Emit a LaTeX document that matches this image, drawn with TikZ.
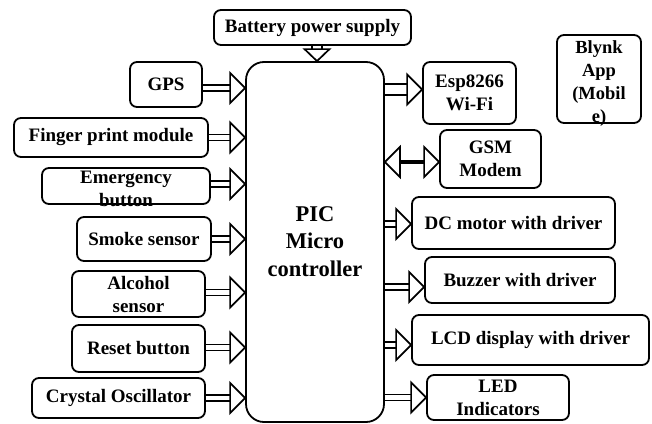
\documentclass[tikz,border=0pt]{standalone}
\usepackage{fontspec}
\setmainfont{Liberation Serif}
\usetikzlibrary{decorations.markings}
\begin{document}
\begin{tikzpicture}[x=1pt,y=-1pt,
  box/.style={draw, line width=1.8pt, rounded corners=7pt, inner sep=0pt, align=center,
    font=\fontsize{19}{23}\selectfont\bfseries},
  tiphead/.style={line width=1.7pt, fill=white, line join=miter, shorten >=0pt, shorten <=0pt},
  tipend/.style={decoration={markings, mark=at position 1 with {\draw[tiphead] (0pt,0pt) -- (-15pt,15pt) -- (-15pt,-15pt) -- cycle;}}, postaction=decorate},
  smalltip/.style={decoration={markings, mark=at position 1 with {\draw[tiphead] (0pt,0pt) -- (-12pt,12.5pt) -- (-12pt,-12.5pt) -- cycle;}}, postaction=decorate},
  dbl/.style={line width=1.7pt, double=white, double distance=#1, shorten >=13pt, tipend},
  dbl/.default=4.5pt,
  dblsmall/.style={line width=1.7pt, double=white, double distance=#1, shorten >=10pt, smalltip},
  thick2/.style={line width=3.5pt, shorten >=13pt, shorten <=13pt,
    decoration={markings,
      mark=at position 0 with {\draw[tiphead] (0pt,0pt) -- (15pt,15pt) -- (15pt,-15pt) -- cycle;},
      mark=at position 1 with {\draw[tiphead] (0pt,0pt) -- (-15pt,15pt) -- (-15pt,-15pt) -- cycle;}},
    postaction=decorate}
]
\useasboundingbox (0,0) rectangle (652,423);
\fill[white] (0,0) rectangle (652,423);

% central block
\node[draw, line width=1.8pt, rounded corners=18pt, minimum width=138pt, minimum height=360pt,
  align=center, font=\fontsize{22.5}{28.5}\selectfont\bfseries] (pic) at (315,242) {\raisebox{-2pt}{PIC}\\Micro\\controller};

% top
\node[box, minimum width=197pt, minimum height=35pt] (bat) at (312.5,27.5) {Battery power supply};

% left side
\node[box, minimum width=72pt, minimum height=45pt] (gps) at (166,84.5) {GPS};
\node[box, minimum width=194pt, minimum height=39pt] (fing) at (111,137.5) {Finger print module};
\node[box, minimum width=168pt, minimum height=36pt,
  label={[align=center, font=\fontsize{19}{23}\selectfont\bfseries, yshift=-2.5pt]center:Emergency\\button}] (emg) at (126,186) {};
\node[box, minimum width=134pt, minimum height=44pt] (smk) at (144,239) {Smoke sensor};
\node[box, minimum width=133pt, minimum height=46pt] (alc) at (138.5,294) {Alcohol\\sensor};
\node[box, minimum width=133pt, minimum height=47pt] (rst) at (138.5,348.5) {Reset button};
\node[box, minimum width=173pt, minimum height=40pt] (xtal) at (118.5,398) {Crystal Oscillator};

% right side
\node[box, minimum width=93pt, minimum height=62pt] (esp) at (469.5,93) {Esp8266\\Wi-Fi};
\node[box, minimum width=84pt, minimum height=88pt,
  label={[align=center, font=\fontsize{18.5}{23}\selectfont\bfseries, yshift=-4.5pt]center:Blynk\\App\\(Mobil\\e)}] (blynk) at (599,79) {};
\node[box, minimum width=101pt, minimum height=58pt] (gsm) at (490.5,159) {GSM\\Modem};
\node[box, minimum width=203pt, minimum height=52pt] (dc) at (513.5,223) {DC motor with driver};
\node[box, minimum width=190pt, minimum height=46pt] (buz) at (520,280) {Buzzer with driver};
\node[box, minimum width=237pt, minimum height=50pt] (lcd) at (530.5,340) {LCD display with driver};
\node[box, minimum width=142pt, minimum height=45pt] (led) at (498,397.5) {LED\\Indicators};

% arrow anchor points
\coordinate (cbat) at ([xshift=4.5pt]bat.south);
\coordinate (cgps) at ([yshift=-3.5pt]gps.east);
\coordinate (cfing) at (fing.east);
\coordinate (cemg) at ([yshift=2pt]emg.east);
\coordinate (csmk) at (smk.east);
\coordinate (calc) at ([yshift=1.5pt]alc.east);
\coordinate (crst) at ([yshift=1pt]rst.east);
\coordinate (cxtal) at (xtal.east);
\coordinate (cesp) at ([yshift=3.5pt]esp.west);
\coordinate (cgsm) at ([yshift=-3pt]gsm.west);
\coordinate (cdc) at ([yshift=-1pt]dc.west);
\coordinate (cbuz) at ([yshift=-7pt]buz.west);
\coordinate (clcd) at ([yshift=-5pt]lcd.west);
\coordinate (cled) at (led.west);

% connectors
\draw[dblsmall=8pt] (cbat) -- (cbat |- pic.north);
\draw[dbl] (cgps) -- (cgps -| pic.west);
\draw[dbl] (cfing) -- (cfing -| pic.west);
\draw[dbl] (cemg) -- (cemg -| pic.west);
\draw[dbl] (csmk) -- (csmk -| pic.west);
\draw[dbl] (calc) -- (calc -| pic.west);
\draw[dbl] (crst) -- (crst -| pic.west);
\draw[dbl] (cxtal) -- (cxtal -| pic.west);

\draw[dbl=9pt] (cesp -| pic.east) -- (cesp);
\draw[thick2] (cgsm -| pic.east) -- (cgsm);
\draw[dbl] (cdc -| pic.east) -- (cdc);
\draw[dbl] (cbuz -| pic.east) -- (cbuz);
\draw[dbl] (clcd -| pic.east) -- (clcd);
\draw[dbl] (cled -| pic.east) -- (cled);
\end{tikzpicture}
\end{document}
